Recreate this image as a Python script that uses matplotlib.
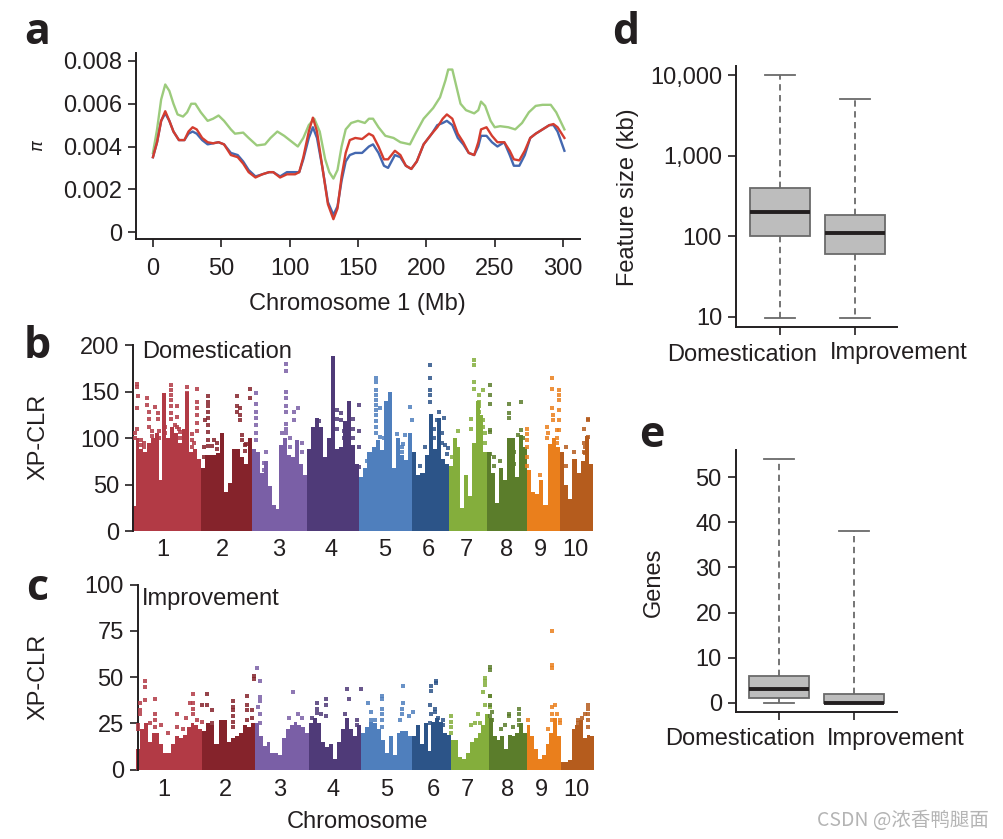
import matplotlib
matplotlib.use("Agg")
import matplotlib.pyplot as plt
import numpy as np

plt.rcParams["font.family"] = ["Liberation Sans", "DejaVu Sans"]
plt.rcParams["font.size"] = 17

W, H = 1004, 839
INK = "#231f20"

# panel a
green_x = [0, 3, 6, 9, 12, 15, 18, 22, 25, 28, 31, 35, 40, 44, 48, 52, 57, 60, 66, 70, 76, 82, 86, 91, 96, 102, 106,
           110, 114, 118, 122, 126, 129, 132, 135, 138, 141, 145, 150, 155, 158, 161, 165, 170, 176, 181, 188, 192,
           198, 205, 210, 214, 216, 219, 222, 225, 229, 235, 238, 240, 243, 247, 250, 254, 260, 265, 270, 275, 280,
           285, 291, 295, 301]
green_y = [.0037, .0048, .0062, .0069, .0066, .0060, .0055, .0054, .0056, .0060, .0060, .0056, .0052, .0053, .00545,
           .0052, .0048, .0046, .00465, .0044, .00405, .0041, .0044, .0047, .0045, .0042, .0040, .0044, .0050, .0053,
           .0047, .0034, .0028, .0025, .0029, .0040, .0048, .0051, .0052, .0051, .0053, .0053, .0049, .0045, .0044,
           .0042, .0041, .0046, .0053, .0058, .0063, .0071, .0076, .0076, .0068, .0060, .0057, .00555, .0057, .0061,
           .0059, .0052, .0049, .00495, .0049, .0048, .0051, .0056, .0059, .00595, .00595, .0056, .0048]
red_x = [0, 3, 6, 9, 12, 15, 19, 23, 26, 29, 32, 36, 40, 44, 48, 52, 57, 62, 66, 70, 75, 80, 85, 88, 93, 98, 104, 107,
         110, 114, 117, 120, 124, 128, 132, 135, 138, 141, 144, 148, 153, 158, 161, 165, 169, 172, 177, 181, 185, 189,
         193, 198, 204, 208, 212, 215, 219, 223, 227, 231, 235, 238, 240, 244, 248, 252, 257, 261, 264, 268, 272, 276,
         280, 285, 290, 293, 296, 301]
red_y = [.0035, .0042, .0052, .00565, .0052, .0047, .0043, .0043, .0047, .0049, .0048, .0044, .0042, .00415, .0042,
         .0041, .0036, .0035, .0032, .0028, .00255, .0027, .0028, .0028, .00255, .0027, .0027, .0028, .0035, .0047,
         .00535, .0047, .0030, .0013, .0006, .0011, .0026, .0037, .0043, .0044, .00435, .0046, .0045, .0040, .0034,
         .0034, .0038, .0036, .0031, .00295, .0033, .0041, .0046, .0049, .0053, .0055, .0053, .0046, .0042, .0037,
         .0036, .0042, .0048, .0049, .0045, .0042, .0042, .0038, .0034, .00335, .0038, .0044, .0046, .0048, .0050,
         .00505, .0049, .0044]
blue_y = [.0035, .0042, .0052, .00555, .0052, .0047, .0043, .0043, .0046, .0047, .0046, .0043, .0041, .00415, .0042,
          .0041, .0037, .0036, .0033, .0029, .0026, .0027, .0028, .0028, .0026, .0028, .0028, .0028, .0034, .0044,
          .0049, .0044, .0030, .0014, .0008, .0012, .0024, .0033, .0036, .0037, .0037, .0040, .0041, .0037, .0031,
          .0030, .0036, .0035, .0031, .00295, .0033, .0041, .0046, .0050, .0051, .0052, .0050, .0044, .0041, .0037,
          .0036, .0040, .0045, .0045, .0042, .0040, .0042, .0036, .0031, .0031, .0036, .0044, .0046, .0048, .0050,
          .0050, .0047, .0038]
pi_ticks = [0, 0.002, 0.004, 0.006, 0.008]
pi_ticklabels = ["0", "0.002", "0.004", "0.006", "0.008"]
mb_ticks = [0, 50, 100, 150, 200, 250, 300]

# panels b and c
chrom_names = ["1", "2", "3", "4", "5", "6", "7", "8", "9", "10"]
chrom_colors = ["#b23a45", "#85232b", "#7a5fa6", "#4f3a78", "#4f7fbd", "#2c5488",
                "#84ae3c", "#5b7d2b", "#ea7f1c", "#b55c1d"]

dom_sizes = [69, 51, 55.6, 52, 53, 36.7, 38.3, 39.7, 33, 33.3]
dom_heights = [
    [27, 100, 88, 85, 95, 100, 105, 55, 148, 100, 112, 105, 95, 110, 150, 85, 88, 78],
    [68, 82, 82, 82, 84, 105, 42, 52, 88, 88, 80, 72, 100],
    [88, 85, 62, 75, 48, 28, 24, 92, 100, 82, 80, 98, 72, 60],
    [88, 112, 122, 112, 80, 100, 188, 88, 90, 118, 140, 92, 72],
    [58, 68, 85, 90, 98, 87, 140, 150, 68, 100, 82, 76, 105],
    [85, 60, 62, 82, 126, 88, 122, 78, 72],
    [70, 100, 90, 25, 60, 38, 95, 140, 125, 85],
    [85, 62, 30, 68, 55, 100, 100, 58, 103, 90],
    [66, 42, 40, 55, 28, 94, 100, 90],
    [85, 50, 35, 78, 62, 75, 102, 72],
]
# (position inside chromosome, values at that position)
dom_dots = [
    [(3, [100, 105]), (5, [155, 158, 132, 110]), (6, [145]), (9, [93, 98]), (12, [90, 95]), (15, [143, 135]),
     (17, [128, 120, 112]), (20, [102, 108]), (23, [133]), (26, [127, 120]), (27, [100, 108]), (33, [105, 112]),
     (39, [157, 152, 146, 141, 134, 127, 120]), (43, [114]), (45, [134, 123, 112]), (47, [110]), (48, [100, 106]),
     (52, [95, 102]), (55, [155, 148, 140]), (60, [90, 98, 104]), (62, [95]), (65, [153, 139, 132, 125, 116, 108])],
    [(3, [80, 90]), (4.3, [119]), (7.7, [145, 139, 134, 128, 121, 114, 107, 98, 91]), (11, [91]), (13.7, [98]),
     (16, [88, 95]), (36.7, [145, 134, 128]), (39.3, [132, 125, 119]), (41, [103, 98]), (44, [86, 92]), (45, [94]),
     (49.3, [153, 143])],
    [(4.3, [148, 137, 128, 121, 114, 105, 98]), (12.7, [73, 66, 60]), (14, [85]), (30, [105]),
     (34.3, [180, 172, 150, 143, 134, 128, 115, 110, 105]), (38, [90, 100]), (42.7, [128, 119]), (46.7, [132]),
     (50, [85, 95])],
    [(12, [118]), (30, [110, 120, 130]), (34, [127, 119]), (37, [100, 108]), (46, [100, 110, 120]),
     (51.7, [135, 108, 69]), (52, [90])],
    [(8, [75]), (17, [165, 160, 152, 146, 141, 135, 130, 125, 118, 112, 105]), (20.3, [132, 101]), (25, [100]),
     (28, [95, 105]), (38, [104]), (43, [85, 90]), (43.7, [94]), (45.3, [103]), (51, [133]), (52.7, [119])],
    [(8, [70]), (13, [90]), (17.7, [178, 164, 152, 146, 139]), (22, [100, 110]), (24.3, [119]), (26.7, [128]),
     (30, [95, 105]), (32, [122]), (32.7, [93]), (34.3, [83]), (36, [89])],
    [(3, [80]), (9, [108]), (22, [110, 120]), (25, [184, 178, 160, 153]), (29, [120]), (30, [146, 139, 134, 128]),
     (31, [123]), (34.3, [152, 119, 112]), (36, [95, 105])],
    [(2.7, [157, 146, 137, 109, 106, 83]), (7, [70, 80]), (13, [75]), (21.7, [137, 127, 121]), (27, [72, 85]),
     (31, [103]), (33.7, [139, 109]), (36, [100])],
    [(0.5, [110, 104, 98, 90, 80, 70]), (13, [60]), (20, [100, 112]), (21.3, [105]), (24.7, [165, 153, 132]),
     (26.3, [125, 119]), (29.7, [109]), (30, [100, 95]), (32, [152, 146, 141, 130, 119, 109])],
    [(6, [90, 70]), (14, [85]), (24, [85, 95, 110]), (25, [90, 84]), (27.7, [120, 119, 101])],
]
dom_ticks = [31, 91, 147, 199, 253, 297, 335, 375, 409, 444]
dom_yticks = [0, 50, 100, 150, 200]

imp_sizes = [66.3, 52.7, 54, 52, 51.3, 38.4, 38.3, 37.7, 34, 33.3]
imp_heights = [
    [11, 22, 25, 15, 20, 20, 14, 9, 9, 14, 18, 17, 19, 23, 25, 24, 22],
    [21, 25, 24, 14, 27, 27, 15, 17, 18, 20, 24, 23, 25],
    [25, 18, 13, 15, 9, 9, 8, 17, 22, 24, 26, 24, 23, 20],
    [25, 28, 25, 15, 12, 14, 6, 15, 22, 28, 22, 18, 24],
    [20, 23, 26, 25, 22, 16, 9, 18, 8, 20, 21, 21, 18],
    [18, 24, 14, 25, 10, 26, 28, 26, 20, 19],
    [16, 16, 7, 6, 9, 15, 17, 20, 24, 30],
    [28, 18, 16, 18, 11, 19, 18, 20, 25, 20],
    [24, 18, 11, 6, 8, 14, 20, 28, 18],
    [4, 4, 5, 22, 24, 27, 17, 19, 18],
]
imp_dots = [
    [(2.3, [24, 22]), (4, [36, 32.5, 30]), (9, [48, 44.5, 37.5]), (14, [25]), (19, [38, 30, 27, 23]), (25, [24]),
     (32, [20]), (41.3, [30, 23]), (47, [22]), (50, [28]), (54, [36]), (57.3, [41, 36, 33, 30]), (60.7, [27]),
     (65.7, [26])],
    [(0, [35]), (5, [41, 35]), (10, [32.5, 25]), (31, [37, 34, 32, 29, 26, 23]), (44.3, [40, 35, 32.5, 27]),
     (49.3, [32.5, 28]), (52, [50.5, 49])],
    [(1.7, [55]), (2.7, [34]), (5, [48, 39, 37, 30, 25]), (34, [28]), (38.3, [42]), (43.3, [30]), (47, [28])],
    [(2.7, [28]), (7.7, [36, 33, 30.7]), (12, [30]), (17, [38, 35, 29]), (36, [30]), (37.7, [43.6]), (40, [38]),
     (47.7, [27, 24]), (52, [43.6])],
    [(6.7, [36]), (10, [31, 27]), (14, [27]), (21.3, [40, 38, 33, 30, 27, 23]), (39, [27]), (40.7, [33, 30]),
     (41.7, [45, 36]), (48, [29]), (52.3, [31])],
    [(17.7, [35, 25]), (18.7, [45, 42.5, 30]), (22.7, [33, 31]), (23.7, [48, 47]), (26, [28]), (31, [27, 24])],
    [(0, [29, 26, 23, 20]), (20, [24]), (24.3, [25]), (27, [30]), (29.3, [25]), (32.7, [42]),
     (34.3, [49.5, 48, 46, 35]), (36, [29]), (39.3, [40, 34])],
    [(1, [55.5, 54, 40, 35, 29]), (3.3, [31, 27]), (11.7, [22]), (16, [24]), (20, [30, 29]), (24.3, [23]),
     (30, [33, 30, 27, 24])],
    [(1, [27]), (21.7, [22]), (25, [34, 30, 27]), (25.3, [75, 56.5, 55]), (28.3, [35]), (30, [30]), (33.3, [27, 25])],
    [(17.7, [27, 25]), (21, [28]), (24, [30]), (27.7, [35, 33, 30, 27, 23])],
]
imp_ticks = [28, 89, 144, 197, 251, 297, 331, 372, 405, 440]
imp_yticks = [0, 25, 50, 75, 100]

# panels d and e
size_box = [
    {"med": 200, "q1": 100, "q3": 400, "whislo": 9.7, "whishi": 10000, "fliers": []},
    {"med": 110, "q1": 60, "q3": 185, "whislo": 9.7, "whishi": 5100, "fliers": []},
]
gene_box = [
    {"med": 3, "q1": 1, "q3": 6, "whislo": 0, "whishi": 54, "fliers": []},
    {"med": 0, "q1": 0, "q3": 2, "whislo": 0, "whishi": 38, "fliers": []},
]
size_ticks = [10, 100, 1000, 10000]
size_ticklabels = ["10", "100", "1,000", "10,000"]
gene_ticks = [0, 10, 20, 30, 40, 50]


def px_axes(fig, left, top, right, bottom):
    return fig.add_axes([left / W, 1 - bottom / H, (right - left) / W, (bottom - top) / H])


def px_text(fig, x, y, s, **kw):
    kw.setdefault("ha", "center")
    kw.setdefault("va", "center")
    kw.setdefault("color", INK)
    fig.text(x / W, 1 - y / H, s, **kw)


def style_axes(ax):
    ax.set_facecolor("none")
    ax.spines["top"].set_visible(False)
    ax.spines["right"].set_visible(False)
    ax.spines["left"].set_linewidth(1.4)
    ax.spines["bottom"].set_linewidth(1.4)
    ax.spines["left"].set_color(INK)
    ax.spines["bottom"].set_color(INK)
    ax.tick_params(length=6, width=1.2, color=INK, labelcolor=INK, pad=4, labelsize=17)


def manhattan(ax, sizes, heights, dots, tick_pos, yticks, spine_x, dot_size):
    start = 0
    for size, h, d, color in zip(sizes, heights, dots, chrom_colors):
        edges = np.linspace(start, start + size, len(h) + 1)
        ax.bar(edges[:-1], h, width=np.diff(edges), align="edge", color=color, linewidth=0, zorder=2)
        for pos, vals in d:
            ax.scatter([start + pos] * len(vals), vals, s=dot_size, marker="s", color=color, alpha=0.85,
                       linewidths=0, zorder=3)
        start += size
    ax.set_xlim(0, start)
    style_axes(ax)
    ax.spines["bottom"].set_visible(False)
    ax.spines["left"].set_position(("data", spine_x))
    ax.spines["left"].set_bounds(yticks[0], yticks[-1])
    ax.set_yticks(yticks)
    ax.set_xticks(tick_pos)
    ax.set_xticklabels(chrom_names)
    ax.tick_params(axis="x", length=0, pad=5)


def box_panel(ax, stats):
    ax.bxp(stats, positions=[1, 2], widths=0.8, capwidths=0.4, patch_artist=True, showfliers=False,
           boxprops={"facecolor": "#bdbdbd", "edgecolor": "#6a6a6a", "linewidth": 1.3},
           medianprops={"color": "#231f20", "linewidth": 2.8, "solid_capstyle": "butt"},
           whiskerprops={"color": "#6a6a6a", "linewidth": 1.3, "linestyle": (0, (3.5, 2.5))},
           capprops={"color": "#6a6a6a", "linewidth": 1.3})
    style_axes(ax)
    ax.set_xticks([1, 2])
    ax.set_xticklabels([])


fig = plt.figure(figsize=(W / 100, H / 100), dpi=100)

# a
ax_a = px_axes(fig, 136, 53, 580, 239)
ax_a.plot(green_x, green_y, color="#9ccb7c", lw=1.7)
ax_a.plot(red_x, blue_y, color="#4468b0", lw=1.7)
ax_a.plot(red_x, red_y, color="#d43d2f", lw=1.7)
ax_a.set_xlim(-12.4, 312.4)
ax_a.set_ylim(-0.000327, 0.008374)
style_axes(ax_a)
ax_a.set_xticks(mb_ticks)
ax_a.set_yticks(pi_ticks)
ax_a.set_yticklabels(pi_ticklabels)
ax_a.tick_params(axis="x", pad=8)

# b
ax_b = px_axes(fig, 131.7, 345, 593.3, 532)
ax_b.set_ylim(-1, 200)
manhattan(ax_b, dom_sizes, dom_heights, dom_dots, dom_ticks, dom_yticks, 1.7, 8)

# c
ax_c = px_axes(fig, 136, 584.5, 594, 772.5)
ax_c.set_ylim(-1.5, 100)
manhattan(ax_c, imp_sizes, imp_heights, imp_dots, imp_ticks, imp_yticks, 1.7, 9)

# d
ax_d = px_axes(fig, 736, 66, 897, 326.7)
box_panel(ax_d, size_box)
ax_d.set_yscale("log")
ax_d.set_xlim(0.417, 2.564)
ax_d.set_ylim(7.58, 12930)
ax_d.set_yticks(size_ticks)
ax_d.set_yticklabels(size_ticklabels)
ax_d.minorticks_off()

# e
ax_e = px_axes(fig, 735.7, 450, 896.7, 712.3)
box_panel(ax_e, gene_box)
ax_e.set_xlim(0.42, 2.565)
ax_e.set_ylim(-2.13, 56.05)
ax_e.set_yticks(gene_ticks)

# texts outside the axes
for letter, x, y in [("a", 37, 33), ("b", 37, 346), ("c", 37, 588), ("d", 626, 33), ("e", 652, 435)]:
    px_text(fig, x, y, letter, family="Open Sans", weight="bold", fontsize=31)

px_text(fig, 357, 304, "Chromosome 1 (Mb)", fontsize=17)
px_text(fig, 39, 145, r"$\pi$", fontsize=13, rotation=90)
px_text(fig, 217, 352, "Domestication", fontsize=17)
px_text(fig, 211, 599, "Improvement", fontsize=17)
px_text(fig, 38, 437, "XP-CLR", fontsize=17, rotation=90)
px_text(fig, 38, 677, "XP-CLR", fontsize=17, rotation=90)
px_text(fig, 357, 822, "Chromosome", fontsize=17)
px_text(fig, 628, 197, "Feature size (kb)", fontsize=17, rotation=90)
px_text(fig, 742, 355, "Domestication", fontsize=17)
px_text(fig, 899, 353, "Improvement", fontsize=17)
px_text(fig, 654, 582, "Genes", fontsize=17, rotation=90)
px_text(fig, 740, 739, "Domestication", fontsize=17)
px_text(fig, 896, 739, "Improvement", fontsize=17)
px_text(fig, 903, 821, "CSDN @浓香鸭腿面", fontsize=14, color="#b4b4b4",
        family=["Noto Sans CJK SC", "DejaVu Sans"])

fig.savefig("out.png", dpi=100)
